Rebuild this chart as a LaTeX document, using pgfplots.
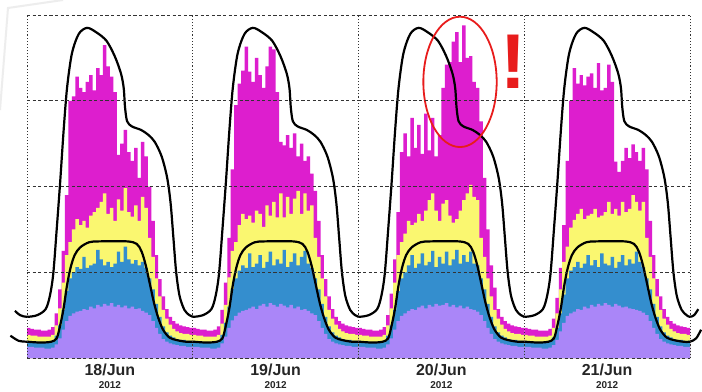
\documentclass[border=0pt]{standalone}
\usepackage{pgfplots}
\usepackage{pgfplotstable}
\pgfplotsset{compat=1.18}
\usepackage{fontspec}
\setmainfont{Liberation Sans}
\definecolor{lavC}{RGB}{170,134,248}
\definecolor{bluC}{RGB}{52,142,206}
\definecolor{yelC}{RGB}{250,247,112}
\definecolor{magC}{RGB}{221,30,206}
\definecolor{redC}{RGB}{232,28,28}

\pgfplotstableread{
t L B Y M
0 0.13 0.20 0.27 0.35
0.5 0.13 0.19 0.26 0.34
1 0.12 0.19 0.26 0.33
1.5 0.12 0.18 0.25 0.33
2 0.12 0.18 0.25 0.32
2.5 0.11 0.18 0.25 0.32
3 0.11 0.18 0.25 0.33
3.5 0.12 0.19 0.27 0.36
4 0.16 0.26 0.38 0.52
4.5 0.23 0.38 0.58 0.80
5 0.33 0.56 0.88 1.25
5.5 0.43 0.78 1.20 1.90
6 0.49 0.93 1.35 3.00
6.5 0.52 1.00 1.50 3.05
7 0.54 1.06 1.62 3.28
7.5 0.55 1.04 1.55 3.15
8 0.57 1.18 1.60 3.10
8.5 0.56 1.05 1.52 3.22
9 0.60 1.08 1.66 3.30
9.5 0.58 1.10 1.70 3.12
10 0.62 1.26 1.75 3.38
10.5 0.60 1.15 1.82 3.30
11 0.63 1.08 1.92 3.65
11.5 0.61 1.12 1.68 3.40
12 0.64 1.06 1.75 3.28
12.5 0.60 1.10 1.60 3.10
13 0.62 1.24 1.85 2.37
13.5 0.59 1.12 1.72 2.50
14 0.61 1.30 1.98 2.66
14.5 0.58 1.15 1.70 2.40
15 0.60 1.10 1.65 2.30
15.5 0.57 1.14 1.78 2.45
16 0.58 1.08 1.60 2.10
16.5 0.55 1.12 1.88 2.52
17 0.53 1.05 1.75 2.35
17.5 0.50 0.93 1.40 2.00
18 0.43 0.80 1.18 1.60
18.5 0.35 0.63 0.93 1.20
19 0.28 0.48 0.72 0.92
19.5 0.22 0.37 0.56 0.72
20 0.19 0.30 0.46 0.57
20.5 0.17 0.26 0.39 0.48
21 0.16 0.24 0.34 0.43
21.5 0.15 0.22 0.31 0.40
22 0.14 0.21 0.29 0.38
22.5 0.14 0.21 0.28 0.37
23 0.13 0.20 0.28 0.36
23.5 0.13 0.20 0.27 0.35
24 0.13 0.20 0.27 0.35
}\tabA

\pgfplotstableread{
t L B Y M
24 0.13 0.20 0.27 0.35
24.5 0.13 0.19 0.26 0.34
25 0.12 0.19 0.26 0.33
25.5 0.12 0.18 0.25 0.33
26 0.12 0.18 0.25 0.32
26.5 0.11 0.18 0.25 0.32
27 0.11 0.18 0.25 0.33
27.5 0.12 0.19 0.27 0.37
28 0.17 0.27 0.40 0.56
28.5 0.25 0.41 0.62 0.88
29 0.35 0.60 0.94 1.40
29.5 0.44 0.81 1.25 2.20
30 0.49 0.93 1.35 2.95
30.5 0.53 1.02 1.55 3.20
31 0.55 1.08 1.68 3.35
31.5 0.56 1.05 1.62 3.63
32 0.58 1.22 1.66 3.34
32.5 0.60 1.06 1.58 3.22
33 0.57 1.10 1.72 3.50
33.5 0.61 1.20 1.68 3.30
34 0.63 1.05 1.53 3.15
34.5 0.60 1.12 1.78 3.40
35 0.64 1.24 1.66 3.63
35.5 0.62 1.08 1.82 3.60
36 0.60 1.15 1.64 3.10
36.5 0.63 1.10 1.92 2.52
37 0.61 1.26 1.64 2.48
37.5 0.59 1.06 1.88 2.60
38 0.62 1.12 1.68 2.45
38.5 0.58 1.22 1.86 2.62
39 0.60 1.08 1.95 2.35
39.5 0.56 1.18 1.68 2.50
40 0.57 1.25 1.92 2.30
40.5 0.55 1.10 1.72 2.35
41 0.52 1.05 1.78 2.15
41.5 0.50 0.93 1.40 1.95
42 0.43 0.80 1.18 1.60
42.5 0.35 0.63 0.93 1.20
43 0.28 0.48 0.72 0.92
43.5 0.22 0.37 0.56 0.72
44 0.19 0.30 0.46 0.57
44.5 0.17 0.26 0.39 0.48
45 0.16 0.24 0.34 0.43
45.5 0.15 0.22 0.31 0.40
46 0.14 0.21 0.29 0.38
46.5 0.14 0.21 0.28 0.37
47 0.13 0.20 0.28 0.36
47.5 0.13 0.20 0.27 0.35
48 0.13 0.20 0.27 0.35
}\tabB

\pgfplotstableread{
t L B Y M
48 0.13 0.20 0.27 0.35
48.5 0.13 0.19 0.26 0.34
49 0.12 0.19 0.26 0.33
49.5 0.12 0.18 0.25 0.33
50 0.12 0.18 0.25 0.32
50.5 0.11 0.18 0.25 0.32
51 0.11 0.18 0.25 0.33
51.5 0.12 0.19 0.27 0.36
52 0.16 0.26 0.38 0.50
52.5 0.23 0.38 0.58 0.75
53 0.33 0.56 0.88 1.15
53.5 0.43 0.78 1.20 1.70
54 0.49 0.93 1.35 2.40
54.5 0.52 1.00 1.45 2.62
55 0.55 1.08 1.60 2.35
55.5 0.57 1.20 1.55 2.80
56 0.56 1.05 1.58 2.45
56.5 0.59 1.10 1.68 2.72
57 0.61 1.22 1.60 2.38
57.5 0.58 1.08 1.72 2.85
58 0.62 1.12 1.84 2.42
58.5 0.60 1.25 1.92 2.80
59 0.63 1.06 1.72 2.35
59.5 0.61 1.18 1.60 2.60
60 0.62 1.10 1.80 3.15
60.5 0.64 1.24 1.84 3.42
61 0.60 1.08 1.66 3.45
61.5 0.62 1.15 1.58 3.69
62 0.59 1.26 1.62 3.80
62.5 0.61 1.10 1.72 3.45
63 0.58 1.20 1.84 3.88
63.5 0.60 1.12 1.92 3.50
64 0.57 1.24 2.02 3.52
64.5 0.56 1.10 1.88 3.22
65 0.54 1.08 1.84 3.15
65.5 0.50 0.93 1.40 2.76
66 0.43 0.80 1.18 2.10
66.5 0.35 0.63 0.93 1.50
67 0.28 0.48 0.72 1.08
67.5 0.22 0.37 0.56 0.82
68 0.19 0.30 0.46 0.57
68.5 0.17 0.26 0.39 0.48
69 0.16 0.24 0.34 0.43
69.5 0.15 0.22 0.31 0.40
70 0.14 0.21 0.29 0.38
70.5 0.14 0.21 0.28 0.37
71 0.13 0.20 0.28 0.36
71.5 0.13 0.20 0.27 0.35
72 0.13 0.20 0.27 0.35
}\tabC

\pgfplotstableread{
t L B Y M
72 0.13 0.20 0.27 0.35
72.5 0.13 0.19 0.26 0.34
73 0.12 0.19 0.26 0.33
73.5 0.12 0.18 0.25 0.33
74 0.12 0.18 0.25 0.32
74.5 0.11 0.18 0.25 0.32
75 0.11 0.18 0.25 0.32
75.5 0.12 0.19 0.26 0.34
76 0.15 0.24 0.35 0.46
76.5 0.21 0.35 0.52 0.70
77 0.31 0.52 0.80 1.05
77.5 0.41 0.74 1.12 1.55
78 0.49 0.93 1.30 2.30
78.5 0.52 1.02 1.52 3.00
79 0.54 1.06 1.61 3.38
79.5 0.57 1.12 1.68 3.20
80 0.56 1.05 1.74 3.30
80.5 0.60 1.10 1.62 3.18
81 0.58 1.20 1.66 3.28
81.5 0.62 1.08 1.68 3.32
82 0.60 1.14 1.74 3.15
82.5 0.63 1.06 1.64 3.44
83 0.61 1.22 1.66 3.12
83.5 0.64 1.10 1.70 3.15
84 0.62 1.08 1.82 3.42
84.5 0.60 1.18 1.68 3.22
85 0.63 1.05 1.74 2.29
85.5 0.61 1.12 1.66 2.17
86 0.59 1.20 1.82 2.30
86.5 0.60 1.08 1.70 2.45
87 0.58 1.15 1.74 2.33
87.5 0.57 1.10 1.90 2.49
88 0.56 1.24 1.82 2.40
88.5 0.55 1.12 1.72 2.30
89 0.53 1.06 1.82 2.45
89.5 0.50 0.93 1.40 2.20
90 0.43 0.80 1.18 1.60
90.5 0.35 0.63 0.93 1.20
91 0.28 0.48 0.72 0.92
91.5 0.22 0.37 0.56 0.72
92 0.19 0.30 0.46 0.57
92.5 0.17 0.26 0.39 0.48
93 0.16 0.24 0.34 0.43
93.5 0.15 0.22 0.31 0.40
94 0.14 0.21 0.29 0.38
94.5 0.14 0.21 0.28 0.37
95 0.13 0.20 0.28 0.36
95.5 0.13 0.20 0.27 0.35
96 0.13 0.20 0.27 0.35
}\tabD

\begin{document}
\begin{tikzpicture}
\path[use as bounding box] (0,0) rectangle (702bp,392bp);
\clip (0,0) rectangle (702bp,392bp);
\fill[white] (0,0) rectangle (702bp,392bp);
\draw[black!7, line width=2bp] (0,282bp) -- (8bp,384bp) -- (63bp,392bp);
\begin{axis}[
  at={(27bp,34bp)}, anchor=south west,
  scale only axis, width=663bp, height=343bp,
  xmin=0, xmax=96, ymin=0, ymax=4,
  axis line style={draw=none},
  xtick={0,24,48,72,96}, xticklabels={},
  ytick={0,1,2,3,4}, yticklabels={},
  major tick length=0pt,
  xmajorgrids, ymajorgrids,
  x grid style={black!80, line width=0.9bp, dash pattern=on 1.1bp off 2bp},
  y grid style={black!80, line width=0.9bp, dash pattern=on 3.2bp off 2.4bp},
  axis on top,
  clip=false,
  extra x ticks={12,36,60,84},
  extra x tick labels={{18/Jun\\[-3bp]{\fontsize{10}{10}\selectfont 2012}},{19/Jun\\[-3bp]{\fontsize{10}{10}\selectfont 2012}},{20/Jun\\[-3bp]{\fontsize{10}{10}\selectfont 2012}},{21/Jun\\[-3bp]{\fontsize{10}{10}\selectfont 2012}}},
  extra x tick style={grid=none, tick label style={font=\fontsize{16}{16}\selectfont\bfseries, text=black!85, align=center, inner sep=0pt, yshift=-6bp}},
]
\addplot[const plot, fill=magC, draw=none] table[x=t,y=M]{\tabA} \closedcycle;
\addplot[const plot, fill=yelC, draw=none] table[x=t,y=Y]{\tabA} \closedcycle;
\addplot[const plot, fill=bluC, draw=none] table[x=t,y=B]{\tabA} \closedcycle;
\addplot[const plot, fill=lavC, draw=none] table[x=t,y=L]{\tabA} \closedcycle;
\addplot[const plot, fill=magC, draw=none] table[x=t,y=M]{\tabB} \closedcycle;
\addplot[const plot, fill=yelC, draw=none] table[x=t,y=Y]{\tabB} \closedcycle;
\addplot[const plot, fill=bluC, draw=none] table[x=t,y=B]{\tabB} \closedcycle;
\addplot[const plot, fill=lavC, draw=none] table[x=t,y=L]{\tabB} \closedcycle;
\addplot[const plot, fill=magC, draw=none] table[x=t,y=M]{\tabC} \closedcycle;
\addplot[const plot, fill=yelC, draw=none] table[x=t,y=Y]{\tabC} \closedcycle;
\addplot[const plot, fill=bluC, draw=none] table[x=t,y=B]{\tabC} \closedcycle;
\addplot[const plot, fill=lavC, draw=none] table[x=t,y=L]{\tabC} \closedcycle;
\addplot[const plot, fill=magC, draw=none] table[x=t,y=M]{\tabD} \closedcycle;
\addplot[const plot, fill=yelC, draw=none] table[x=t,y=Y]{\tabD} \closedcycle;
\addplot[const plot, fill=bluC, draw=none] table[x=t,y=B]{\tabD} \closedcycle;
\addplot[const plot, fill=lavC, draw=none] table[x=t,y=L]{\tabD} \closedcycle;

% upper envelope
\addplot[black, line width=2.2bp, smooth, tension=0.5] coordinates {
(-1.75,0.55)(-1,0.50)
(0,0.48)(1.5,0.50)(2.7,0.57)(3.3,0.72)(3.8,0.98)(4.3,1.5)(4.8,2.05)(5.3,2.65)(5.8,3.15)(6.5,3.55)(7.5,3.78)(8.7,3.85)(10.0,3.80)(11.5,3.70)(12.7,3.52)(13.6,3.32)(14.0,3.15)(14.2,2.92)(14.5,2.76)(15.2,2.70)(16.5,2.66)(17.6,2.60)(18.5,2.52)(19.5,2.35)(20.3,2.10)(20.8,1.80)(21.2,1.40)(21.6,1.00)(22.1,0.72)(22.8,0.56)(23.5,0.50)
(24,0.48)(25.5,0.50)(26.7,0.57)(27.3,0.72)(27.8,0.98)(28.3,1.5)(28.8,2.05)(29.3,2.65)(29.8,3.15)(30.5,3.55)(31.5,3.78)(32.7,3.85)(34.0,3.80)(35.5,3.70)(36.7,3.52)(37.6,3.32)(38.0,3.15)(38.2,2.92)(38.5,2.76)(39.2,2.70)(40.5,2.66)(41.6,2.60)(42.5,2.52)(43.5,2.35)(44.3,2.10)(44.8,1.80)(45.2,1.40)(45.6,1.00)(46.1,0.72)(46.8,0.56)(47.5,0.50)
(48,0.48)(49.5,0.50)(50.7,0.57)(51.3,0.72)(51.8,0.98)(52.3,1.5)(52.8,2.05)(53.3,2.65)(53.8,3.15)(54.5,3.55)(55.5,3.78)(56.7,3.85)(58.0,3.80)(59.5,3.70)(60.7,3.52)(61.6,3.32)(62.0,3.15)(62.2,2.92)(62.5,2.76)(63.2,2.70)(64.5,2.66)(65.6,2.60)(66.5,2.52)(67.5,2.35)(68.3,2.10)(68.8,1.80)(69.2,1.40)(69.6,1.00)(70.1,0.72)(70.8,0.56)(71.5,0.50)
(72,0.48)(73.5,0.50)(74.7,0.57)(75.3,0.72)(75.8,0.98)(76.3,1.5)(76.8,2.05)(77.3,2.65)(77.8,3.15)(78.5,3.55)(79.5,3.78)(80.7,3.85)(82.0,3.80)(83.5,3.70)(84.7,3.52)(85.6,3.32)(86.0,3.15)(86.2,2.92)(86.5,2.76)(87.2,2.70)(88.5,2.66)(89.6,2.60)(90.5,2.52)(91.5,2.35)(92.3,2.10)(92.8,1.80)(93.2,1.40)(93.6,1.00)(94.1,0.72)(94.8,0.56)(95.5,0.50)
(96,0.48)(96.6,0.50)(97.2,0.57)
};
% lower envelope
\addplot[black, line width=2.2bp, smooth, tension=0.5] coordinates {
(-2.4,0.26)(-1.2,0.20)
(0,0.19)(2,0.18)(3.5,0.19)(4.3,0.23)(4.8,0.38)(5.3,0.58)(5.8,0.85)(6.3,1.05)(6.9,1.20)(7.7,1.29)(9,1.35)(10.5,1.36)(14.5,1.36)(15.9,1.33)(16.6,1.24)(17.2,1.08)(17.8,0.86)(18.4,0.64)(19.0,0.47)(19.7,0.33)(20.6,0.24)(21.6,0.21)(23,0.19)
(24,0.19)(26,0.18)(27.5,0.19)(28.3,0.23)(28.8,0.38)(29.3,0.58)(29.8,0.85)(30.3,1.05)(30.9,1.20)(31.7,1.29)(33,1.35)(34.5,1.36)(38.5,1.36)(39.9,1.33)(40.6,1.24)(41.2,1.08)(41.8,0.86)(42.4,0.64)(43.0,0.47)(43.7,0.33)(44.6,0.24)(45.6,0.21)(47,0.19)
(48,0.19)(50,0.18)(51.5,0.19)(52.3,0.23)(52.8,0.38)(53.3,0.58)(53.8,0.85)(54.3,1.05)(54.9,1.20)(55.7,1.29)(57,1.35)(58.5,1.36)(62.5,1.36)(63.9,1.33)(64.6,1.24)(65.2,1.08)(65.8,0.86)(66.4,0.64)(67.0,0.47)(67.7,0.33)(68.6,0.24)(69.6,0.21)(71,0.19)
(72,0.19)(74,0.18)(75.5,0.19)(76.3,0.23)(76.8,0.38)(77.3,0.58)(77.8,0.85)(78.3,1.05)(78.9,1.20)(79.7,1.29)(81,1.35)(82.5,1.36)(86.5,1.36)(87.9,1.33)(88.6,1.24)(89.2,1.08)(89.8,0.86)(90.4,0.64)(91.0,0.47)(91.7,0.33)(92.6,0.24)(93.6,0.21)(95,0.19)
(96,0.19)(96.9,0.23)(97.6,0.33)
};
\draw[redC, line width=1.8bp] (axis cs:62.7,3.22) ellipse [x radius=5.31, y radius=0.76];
\node[text=redC, inner sep=0pt, font=\fontsize{78}{78}\selectfont\bfseries] at (axis cs:70.45,3.46) {!};
\end{axis}
\end{tikzpicture}
\end{document}
